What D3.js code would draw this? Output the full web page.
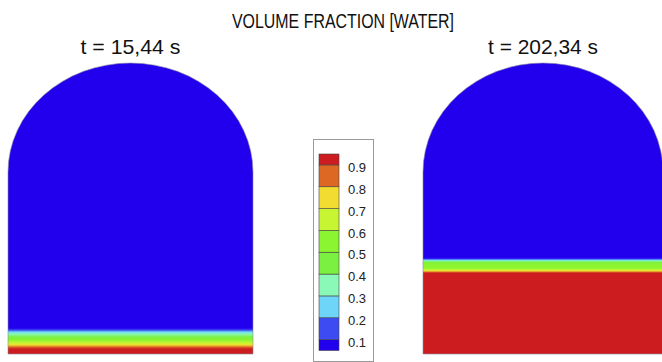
<!DOCTYPE html>
<html><head><meta charset="utf-8">
<script src="https://cdn.jsdelivr.net/npm/d3@7"></script>
<style>html,body{margin:0;padding:0;background:#fff;}svg{display:block;}</style>
</head><body>
<script>
// ---- data ----
const title = "VOLUME FRACTION [WATER]";
const panelLabels = ["t = 15,44 s", "t = 202,34 s"];
const legendTicks = [0.1, 0.2, 0.3, 0.4, 0.5, 0.6, 0.7, 0.8, 0.9];
const legendColors = ["#2200ee", "#3c4cf2", "#6ed4f8", "#8af8b6", "#7cf040", "#8af530", "#c8f532", "#f2dc32", "#dc6824", "#cc1c20"];
const legendRange = [0.05, 0.95];
// vertical profiles of volume fraction (relative height 0 = bottom, 1 = top of dome)
const leftHeights   = [0, 0.017, 0.024, 0.031, 0.038, 0.048, 0.058, 0.069, 0.076, 0.082, 0.089, 1];
const leftFraction  = [0.97, 0.93, 0.85, 0.75, 0.65, 0.55, 0.45, 0.35, 0.25, 0.15, 0.05, 0.03];
const rightHeights  = [0, 0.278, 0.282, 0.285, 0.289, 0.296, 0.309, 0.316, 0.320, 0.323, 0.326, 0.330, 1];
const rightFraction = [0.97, 0.95, 0.85, 0.75, 0.65, 0.55, 0.5, 0.45, 0.35, 0.25, 0.15, 0.05, 0.03];

// ---- drawing ----
const W = 662, H = 362;
const svg = d3.select("body").append("svg").attr("width", W).attr("height", H);
const color = d3.scaleThreshold().domain(legendTicks).range(legendColors);
const yRel = d3.scaleLinear().domain([0, 1]).range([354, 63]);
const domeStart = 0.625; // relative height where dome begins

svg.append("text").attr("x", 343).attr("y", 28).attr("text-anchor", "middle")
  .attr("font-family", "Liberation Sans, Arial, sans-serif").attr("font-size", 21)
  .attr("textLength", 222).attr("lengthAdjust", "spacingAndGlyphs")
  .attr("fill", "#111").text(title);

const vessels = [
  {cx: 130.5, hw: 122.5, heights: leftHeights, frac: leftFraction, label: panelLabels[0], lw: 100},
  {cx: 543, hw: 120, heights: rightHeights, frac: rightFraction, label: panelLabels[1], lw: 110}
];
const defs = svg.append("defs");
vessels.forEach((v, i) => {
  const g = defs.append("linearGradient").attr("id", "grad" + i)
    .attr("gradientUnits", "userSpaceOnUse")
    .attr("x1", 0).attr("x2", 0).attr("y1", yRel(0)).attr("y2", yRel(1));
  v.heights.forEach((h, k) => {
    g.append("stop").attr("offset", h).attr("stop-color", color(v.frac[k]));
  });
  const x0 = v.cx - v.hw, x1 = v.cx + v.hw;
  const yb = yRel(0), yd = yRel(domeStart), yt = yRel(1);
  const ry = yd - yt;
  const d = `M${x0},${yb} L${x0},${yd} A${v.hw},${ry} 0 0 1 ${x1},${yd} L${x1},${yb} Z`;
  svg.append("path").attr("d", d).attr("fill", `url(#grad${i})`)
    .attr("stroke", "#8a8a9a").attr("stroke-width", 0.6);
  svg.append("text").attr("x", v.cx).attr("y", 54).attr("text-anchor", "middle")
    .attr("font-family", "Liberation Sans, Arial, sans-serif").attr("font-size", 21)
    .attr("textLength", v.lw).attr("lengthAdjust", "spacingAndGlyphs")
    .attr("fill", "#111").text(v.label);
});

// legend
const lg = svg.append("g");
lg.append("rect").attr("x", 313.5).attr("y", 139.5).attr("width", 60).attr("height", 222)
  .attr("fill", "#fff").attr("stroke", "#9a9a9a").attr("stroke-width", 1);
const ly = d3.scaleLinear().domain(legendRange).range([350.5, 154]);
const edges = [legendRange[0], ...legendTicks, legendRange[1]];
lg.selectAll("rect.sw").data(legendColors).join("rect").attr("class", "sw")
  .attr("x", 319).attr("width", 20)
  .attr("y", (c, i) => ly(edges[i + 1]))
  .attr("height", (c, i) => ly(edges[i]) - ly(edges[i + 1]))
  .attr("fill", c => c).attr("stroke", "#444").attr("stroke-width", 0.6);
const axis = d3.axisRight(ly).tickValues(legendTicks).tickSize(0).tickPadding(0).tickFormat(d3.format(".1f"));
const ag = lg.append("g").attr("transform", "translate(348,2.5)").call(axis);
ag.select(".domain").remove();
ag.selectAll("text").attr("font-family", "Liberation Sans, Arial, sans-serif")
  .attr("font-size", 13).attr("fill", "#222");
</script>
</body></html>
